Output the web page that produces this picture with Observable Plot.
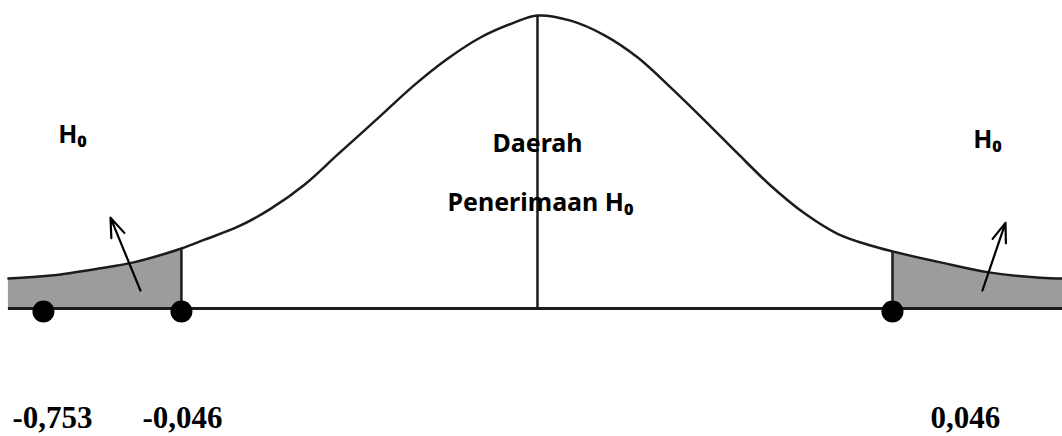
<!DOCTYPE html>
<html>
<head>
<meta charset="utf-8">
<script src="https://cdn.jsdelivr.net/npm/d3@7"></script>
<script src="https://cdn.jsdelivr.net/npm/@observablehq/plot@0.6"></script>
<style>
  html, body { margin: 0; padding: 0; background: #fff; }
  #chart svg { display: block; }
</style>
</head>
<body>
<div id="chart"></div>
<script>
// Density curve (z units, density units)
const curveZ = [-3.006, -2.767, -2.483, -2.295, -2.023, -1.892, -1.699, -1.517, -1.324, -1.136, -0.892, -0.705, -0.511, -0.324, -0.136, 0,
                0.188, 0.381, 0.568, 0.756, 0.949, 1.136, 1.324, 1.517, 1.705, 1.892, 2.017, 2.290, 2.574, 2.858, 2.983];
const curveD = [0.041, 0.045, 0.055, 0.063, 0.082, 0.094, 0.112, 0.136, 0.169, 0.210, 0.263, 0.304, 0.341, 0.370, 0.390, 0.400,
                0.393, 0.373, 0.343, 0.302, 0.257, 0.212, 0.168, 0.130, 0.102, 0.086, 0.078, 0.063, 0.049, 0.042, 0.041];

// Critical values (left, right) and the dot markers
const criticalZ = [-2.023, 2.017];
const dotZ = [-2.807, -2.023, 2.017];

// Bottom value labels
const valueLabels = ["-0,753", "-0,046", "0,046"];
const valueLabelZ = [-2.983, -2.244, 2.233];

// Region annotations
const noteText = ["H\u2080", "Daerah", "Penerimaan H\u2080", "H\u2080"];
const noteZ = [-2.642, 0, 0.017, 2.557];
const noteD = [0.2266, 0.2130, 0.1338, 0.2198];
const noteAnchor = ["start", "middle", "middle", "start"];

// Arrows pointing to H0 labels (tail -> tip)
const arrowZ1 = [-2.256, 2.528];
const arrowD1 = [0.0246, 0.0246];
const arrowZ2 = [-2.426, 2.659];
const arrowD2 = [0.124, 0.117];

const curve = curveZ.map((z, i) => ({z, d: curveD[i]}));
const leftTail = curve.filter(p => p.z <= criticalZ[0]);
const rightTail = curve.filter(p => p.z >= criticalZ[1]);
const critRules = criticalZ.map(z => ({z, d: curve.find(p => p.z === z).d}));
const peak = curve.find(p => p.z === 0);
const dots = dotZ.map(z => ({z}));
const labels = valueLabels.map((t, i) => ({t, z: valueLabelZ[i]}));
const notes = noteText.map((t, i) => ({t, z: noteZ[i], d: noteD[i], a: noteAnchor[i]}));
const arrows = arrowZ1.map((z, i) => ({z1: z, d1: arrowD1[i], z2: arrowZ2[i], d2: arrowD2[i]}));

const ink = "#1c1c1c";

const chart = Plot.plot({
  width: 1062,
  height: 436,
  margin: 0,
  x: {domain: [-3.051, 2.983], axis: null},
  y: {domain: [-0.1747, 0.4205], axis: null},
  style: {background: "#fff"},
  marks: [
    Plot.areaY(leftTail, {x: "z", y1: 0, y2: "d", fill: "#9c9c9c", curve: "catmull-rom"}),
    Plot.areaY(rightTail, {x: "z", y1: 0, y2: "d", fill: "#9c9c9c", curve: "catmull-rom"}),
    Plot.ruleX(critRules, {x: "z", y1: 0, y2: "d", stroke: ink, strokeWidth: 2.5}),
    Plot.ruleX([peak], {x: "z", y1: 0, y2: "d", stroke: ink, strokeWidth: 2.5}),
    Plot.ruleY([0], {x1: curveZ[0], x2: curveZ[curveZ.length - 1], stroke: ink, strokeWidth: 3}),
    Plot.line(curve, {x: "z", y: "d", stroke: ink, strokeWidth: 2.5, curve: "catmull-rom"}),
    Plot.dot(dots, {x: "z", y: 0, dy: 3, r: 11, fill: "#000", stroke: "none"}),
    Plot.arrow(arrows, {x1: "z1", y1: "d1", x2: "z2", y2: "d2", stroke: "#000", strokeWidth: 2.2, headLength: 14, headAngle: 40}),
    Plot.text(notes, {x: "z", y: "d", text: "t", textAnchor: d => d.a, lineAnchor: "bottom",
      fontFamily: "'Noto Sans', 'Open Sans', sans-serif", fontWeight: "bold", fontSize: 25, fill: "#000"}),
    Plot.text(labels, {x: "z", y: -0.1625, text: "t", textAnchor: "start", lineAnchor: "bottom",
      fontFamily: "'Liberation Serif', 'Times New Roman', serif", fontWeight: "bold", fontSize: 31, fill: "#000"})
  ]
});

document.getElementById("chart").appendChild(chart);
</script>
</body>
</html>
